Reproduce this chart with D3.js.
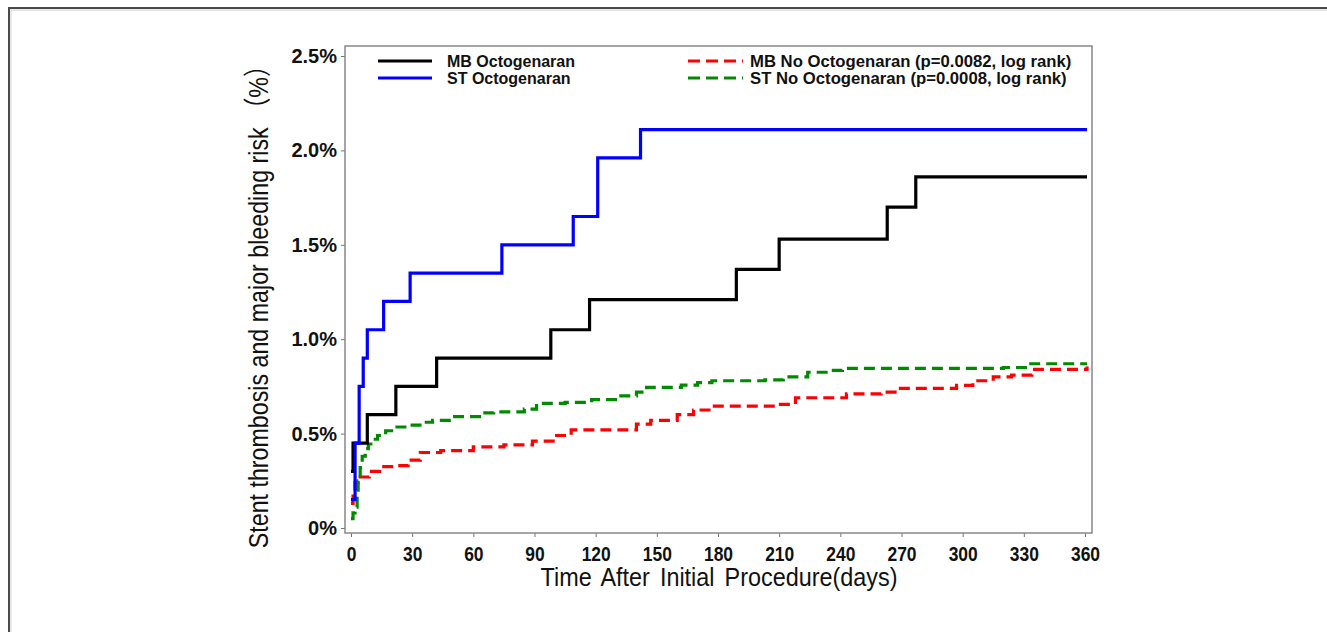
<!DOCTYPE html>
<html>
<head>
<meta charset="utf-8">
<script src="https://cdn.jsdelivr.net/npm/d3@7"></script>
<style>
  body { margin: 0; background: #fff; }
  svg { display: block; }
</style>
</head>
<body>
<div id="chart"></div>
<script>

// tick values and labels
var xTicks = [0, 30, 60, 90, 120, 150, 180, 210, 240, 270, 300, 330, 360];
var yTicks = [0, 0.5, 1.0, 1.5, 2.0, 2.5];
var yTickLabels = ["0%", "0.5%", "1.0%", "1.5%", "2.0%", "2.5%"];

// MB Octogenaran (days, cumulative risk %)
var mbOctoDays = [0, 1, 8, 22, 42, 98, 117, 189, 210, 263, 277, 361];
var mbOctoRisk = [0.30, 0.45, 0.60, 0.75, 0.90, 1.05, 1.21, 1.37, 1.53, 1.70, 1.86, 1.86];

// ST Octogenaran
var stOctoDays = [0, 2, 4, 6, 8, 16, 29, 74, 109, 121, 142, 361];
var stOctoRisk = [0.15, 0.45, 0.75, 0.90, 1.05, 1.20, 1.35, 1.50, 1.65, 1.96, 2.11, 2.11];

// MB No Octogenaran
var mbNoDays = [0, 1, 2, 3.5, 9, 14, 22, 28, 34, 44, 60, 75, 89, 100, 108, 126, 140, 147, 160, 168, 177, 209, 218, 235, 243, 260, 268, 297, 305, 315, 324, 334, 361];
var mbNoRisk = [0.13, 0.19, 0.24, 0.27, 0.30, 0.325, 0.33, 0.36, 0.40, 0.41, 0.43, 0.44, 0.46, 0.49, 0.52, 0.52, 0.55, 0.57, 0.60, 0.625, 0.645, 0.655, 0.69, 0.69, 0.71, 0.72, 0.74, 0.755, 0.78, 0.80, 0.81, 0.84, 0.855];

// ST No Octogenaran
var stNoDays = [0, 1, 2, 3, 3.5, 4.5, 5.5, 7, 8.5, 11, 13, 17, 21, 30, 35, 40, 50, 63, 70, 85, 91, 105, 118, 131, 140, 145, 162, 170, 177, 203, 212, 224, 235, 241, 303, 320, 332, 361];
var stNoRisk = [0.05, 0.08, 0.11, 0.20, 0.25, 0.32, 0.38, 0.42, 0.445, 0.47, 0.49, 0.515, 0.535, 0.545, 0.56, 0.57, 0.59, 0.61, 0.615, 0.63, 0.66, 0.665, 0.68, 0.70, 0.72, 0.745, 0.757, 0.77, 0.78, 0.785, 0.80, 0.825, 0.835, 0.845, 0.845, 0.85, 0.87, 0.87];

var legendLeft = ["MB Octogenaran", "ST Octogenaran"];
var legendRight = ["MB No Octogenaran (p=0.0082, log rank)", "ST No Octogenaran (p=0.0008, log rank)"];

var W = 1327, H = 632;
var box = {left: 345, top: 46, right: 1092, bottom: 533};
var narrow = "'Liberation Sans', Arial, sans-serif";

var svg = d3.select("#chart")
  .append("svg")
  .attr("width", W)
  .attr("height", H);

svg.append("rect").attr("width", W).attr("height", H).attr("fill", "#fff");

// outer figure frame (only top/left visible)
svg.append("rect")
  .attr("x", 9).attr("y", 8)
  .attr("width", W + 20).attr("height", H + 20)
  .attr("fill", "none")
  .attr("stroke", "#4a4a4a")
  .attr("stroke-width", 2);
svg.append("rect")
  .attr("x", 11).attr("y", 10)
  .attr("width", W + 20).attr("height", H + 20)
  .attr("fill", "none")
  .attr("stroke", "#d0d0d0")
  .attr("stroke-width", 1);

var x = d3.scaleLinear().domain([0, 360]).range([351, 1085]);
var y = d3.scaleLinear().domain([0, 2.5]).range([528, 56]);

// clip to plot box
svg.append("clipPath").attr("id", "plotclip")
  .append("rect")
  .attr("x", box.left).attr("y", box.top)
  .attr("width", box.right - box.left).attr("height", box.bottom - box.top);

// y axis
var yAxis = svg.append("g")
  .attr("transform", "translate(" + box.left + ",0)")
  .call(d3.axisLeft(y).tickValues(yTicks).tickSize(4).tickPadding(4)
    .tickFormat(function(d, i) { return yTickLabels[i]; }));
yAxis.select(".domain").remove();
yAxis.selectAll("line").attr("stroke", "#777");
yAxis.selectAll("text")
  .attr("font-family", "'Liberation Sans', Arial, sans-serif")
  .attr("font-size", 20)
  .attr("font-weight", "bold")
  .attr("fill", "#111");

// x axis (labels squeezed horizontally, the original uses a condensed face)
var xAxis = svg.append("g")
  .attr("transform", "translate(0," + box.bottom + ")")
  .call(d3.axisBottom(x).tickValues(xTicks).tickSize(4).tickPadding(9));
xAxis.select(".domain").remove();
xAxis.selectAll("line").attr("stroke", "#777");
xAxis.selectAll("text")
  .attr("font-family", narrow)
  .attr("font-size", 21)
  .attr("font-weight", "bold")
  .attr("fill", "#111")
  .attr("transform", "scale(0.83,1)");

// plot frame
svg.append("rect")
  .attr("x", box.left).attr("y", box.top)
  .attr("width", box.right - box.left).attr("height", box.bottom - box.top)
  .attr("fill", "none")
  .attr("stroke", "#888")
  .attr("stroke-width", 1.5);

// axis titles
svg.append("text")
  .attr("transform", "translate(719,586) scale(0.9,1)")
  .attr("text-anchor", "middle")
  .attr("font-family", narrow)
  .attr("font-size", 26)
  .attr("word-spacing", 4)
  .attr("fill", "#111")
  .text("Time After Initial Procedure(days)");

svg.append("text")
  .attr("transform", "translate(268,301) rotate(-90) scale(0.83,1)")
  .attr("text-anchor", "middle")
  .attr("font-family", "'Liberation Sans', Arial, 'Noto Sans CJK SC', sans-serif")
  .attr("font-size", 28)
  .attr("fill", "#111")
  .text("Stent thrombosis and major bleeding risk （%）");

// curves
var line = d3.line()
  .x(function(d) { return x(d[0]); })
  .y(function(d) { return y(d[1]); })
  .curve(d3.curveStepAfter);

var series = [
  {days: mbNoDays, risk: mbNoRisk, color: "#ff0000", dash: "11,6"},
  {days: stNoDays, risk: stNoRisk, color: "#008a00", dash: "11,6"},
  {days: mbOctoDays, risk: mbOctoRisk, color: "#000000", dash: null},
  {days: stOctoDays, risk: stOctoRisk, color: "#0000ff", dash: null}
];

var curves = svg.append("g").attr("clip-path", "url(#plotclip)");
series.forEach(function(s) {
  curves.append("path")
    .datum(d3.zip(s.days, s.risk))
    .attr("d", line)
    .attr("fill", "none")
    .attr("stroke", s.color)
    .attr("stroke-width", 3.2)
    .attr("stroke-dasharray", s.dash);
});

// legend
var legend = svg.append("g")
  .attr("font-family", "'Liberation Sans', Arial, sans-serif")
  .attr("font-weight", "bold")
  .attr("fill", "#111");

var legendRows = [
  {x1: 378, x2: 432, tx: 447, y: 61, size: 16, color: "#000000", dash: null, label: legendLeft[0]},
  {x1: 378, x2: 432, tx: 447, y: 78, size: 16, color: "#0000ff", dash: null, label: legendLeft[1]},
  {x1: 688, x2: 743, tx: 750, y: 61, size: 16.7, color: "#ff0000", dash: "12,6", label: legendRight[0]},
  {x1: 688, x2: 743, tx: 750, y: 78, size: 16.7, color: "#008a00", dash: "12,6", label: legendRight[1]}
];

legendRows.forEach(function(r) {
  legend.append("line")
    .attr("x1", r.x1).attr("x2", r.x2)
    .attr("y1", r.y).attr("y2", r.y)
    .attr("stroke", r.color)
    .attr("stroke-width", 3.2)
    .attr("stroke-dasharray", r.dash);
  legend.append("text")
    .attr("x", r.tx).attr("y", r.y + 6)
    .attr("font-size", r.size)
    .text(r.label);
});

</script>
</body>
</html>
